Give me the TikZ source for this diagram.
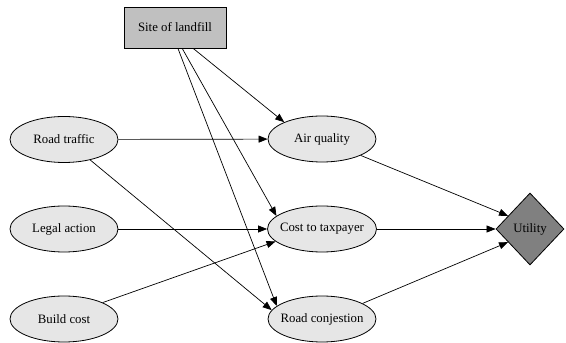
\documentclass[tikz,border=0pt]{standalone}
\usepackage{fontspec}
\setmainfont{Liberation Serif}
\usetikzlibrary{shapes.geometric,arrows.meta}
\definecolor{chancefill}{RGB}{230,230,230}
\definecolor{decisionfill}{RGB}{192,192,192}
\definecolor{utilityfill}{RGB}{128,128,128}
\begin{document}
\begin{tikzpicture}[x=1pt,y=1pt,
    font=\fontsize{12.8}{15}\selectfont,
    chance/.style={draw,ellipse,fill=chancefill,line width=0.8pt,inner xsep=-6pt,inner ysep=0pt,minimum width=108,minimum height=46},
    decision/.style={draw,rectangle,fill=decisionfill,line width=0.8pt,inner sep=0pt,minimum width=102,minimum height=41},
    utility/.style={draw,diamond,fill=utilityfill,line width=0.8pt,inner sep=0pt,minimum width=68,minimum height=72},
    link/.style={line width=0.7pt,-{Triangle[length=9pt,width=7pt]}}]
                \useasboundingbox (0,0) rectangle (566,343);
                %% decision
                \node[decision] (site) at (175,315.5) {Site of landfill};
                %% chance nodes, left column
                \node[chance] (traffic) at (64,203.5) {Road traffic};
                \node[chance] (legal) at (64,114) {Legal action};
                \node[chance] (build) at (64,24) {Build cost};
                %% chance nodes, right column
                \node[chance] (air) at (322,204) {Air quality};
                \node[chance,minimum width=109] (cost) at (322,114) {Cost to taxpayer};
                \node[chance] (roadc) at (322,24) {Road conjestion};
                %% utility
                \node[utility] (util) at (530,114) {Utility};
                %% links
                \draw[link] (site.-49) -- (air.156);
                \draw[link] (site.-71) -- (cost.164);
                \draw[link] (site.-82) -- (roadc.164);
                \draw[link] (traffic) -- (air);
                \draw[link] (traffic.-38) -- (roadc.170);
                \draw[link] (legal) -- (cost);
                \draw[link] (build.23) -- (cost.195);
                \draw[link] (air.-23) -- (util.149);
                \draw[link] (cost) -- (util);
                \draw[link] (roadc.21) -- (util.211);
            \end{tikzpicture}
\end{document}
